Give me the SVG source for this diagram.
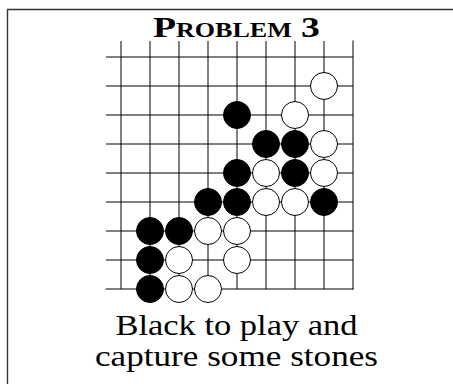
<svg xmlns="http://www.w3.org/2000/svg" width="453" height="384" viewBox="0 0 453 384">
<style>
.frame{fill:none;stroke:#333;stroke-width:1.4}
.grid line{stroke:#000;stroke-width:1}
.edge{stroke:#000;stroke-width:2.4;stroke-linecap:square}
.b{fill:#000;stroke:#000;stroke-width:1}
.w{fill:#fff;stroke:#000;stroke-width:1}
.title{font-family:"Liberation Serif",serif;font-weight:bold;font-variant:small-caps;font-size:29px;fill:#000}
.cap{font-family:"Liberation Serif",serif;font-size:30px;fill:#000}
</style>
<path class="frame" d="M7.5,384 V9.5 H453"/>
<text class="title" x="236.5" y="37" text-anchor="middle" textLength="167" lengthAdjust="spacingAndGlyphs">Problem 3</text>
<g id="connectors" class="grid">
<line x1="106" y1="57" x2="353" y2="57"/>
<line x1="106" y1="86" x2="353" y2="86"/>
<line x1="106" y1="115" x2="353" y2="115"/>
<line x1="106" y1="144" x2="353" y2="144"/>
<line x1="106" y1="173" x2="353" y2="173"/>
<line x1="106" y1="202" x2="353" y2="202"/>
<line x1="106" y1="231" x2="353" y2="231"/>
<line x1="106" y1="260" x2="353" y2="260"/>
<line x1="121" y1="41" x2="121" y2="289"/>
<line x1="150" y1="41" x2="150" y2="289"/>
<line x1="179" y1="41" x2="179" y2="289"/>
<line x1="208" y1="41" x2="208" y2="289"/>
<line x1="237" y1="41" x2="237" y2="289"/>
<line x1="266" y1="41" x2="266" y2="289"/>
<line x1="295" y1="41" x2="295" y2="289"/>
<line x1="324" y1="41" x2="324" y2="289"/>
<line class="edge" x1="106" y1="289" x2="353" y2="289"/>
<line class="edge" x1="353" y1="41" x2="353" y2="289"/>
</g>
<g id="stones">
<circle id="w-7-1" class="w" cx="324" cy="86" r="13.5"/>
<circle id="b-4-2" class="b" cx="237" cy="115" r="13.5"/>
<circle id="w-6-2" class="w" cx="295" cy="115" r="13.5"/>
<circle id="b-5-3" class="b" cx="266" cy="144" r="13.5"/>
<circle id="b-6-3" class="b" cx="295" cy="144" r="13.5"/>
<circle id="w-7-3" class="w" cx="324" cy="144" r="13.5"/>
<circle id="b-4-4" class="b" cx="237" cy="173" r="13.5"/>
<circle id="w-5-4" class="w" cx="266" cy="173" r="13.5"/>
<circle id="b-6-4" class="b" cx="295" cy="173" r="13.5"/>
<circle id="w-7-4" class="w" cx="324" cy="173" r="13.5"/>
<circle id="b-3-5" class="b" cx="208" cy="202" r="13.5"/>
<circle id="b-4-5" class="b" cx="237" cy="202" r="13.5"/>
<circle id="w-5-5" class="w" cx="266" cy="202" r="13.5"/>
<circle id="w-6-5" class="w" cx="295" cy="202" r="13.5"/>
<circle id="b-7-5" class="b" cx="324" cy="202" r="13.5"/>
<circle id="b-1-6" class="b" cx="150" cy="231" r="13.5"/>
<circle id="b-2-6" class="b" cx="179" cy="231" r="13.5"/>
<circle id="w-3-6" class="w" cx="208" cy="231" r="13.5"/>
<circle id="w-4-6" class="w" cx="237" cy="231" r="13.5"/>
<circle id="b-1-7" class="b" cx="150" cy="260" r="13.5"/>
<circle id="w-2-7" class="w" cx="179" cy="260" r="13.5"/>
<circle id="w-4-7" class="w" cx="237" cy="260" r="13.5"/>
<circle id="b-1-8" class="b" cx="150" cy="289" r="13.5"/>
<circle id="w-2-8" class="w" cx="179" cy="289" r="13.5"/>
<circle id="w-3-8" class="w" cx="208" cy="289" r="13.5"/>
</g>
<text class="cap" x="236.5" y="335" text-anchor="middle" textLength="242" lengthAdjust="spacingAndGlyphs">Black to play and</text>
<text class="cap" x="236.5" y="366" text-anchor="middle" textLength="283" lengthAdjust="spacingAndGlyphs">capture some stones</text>
</svg>
